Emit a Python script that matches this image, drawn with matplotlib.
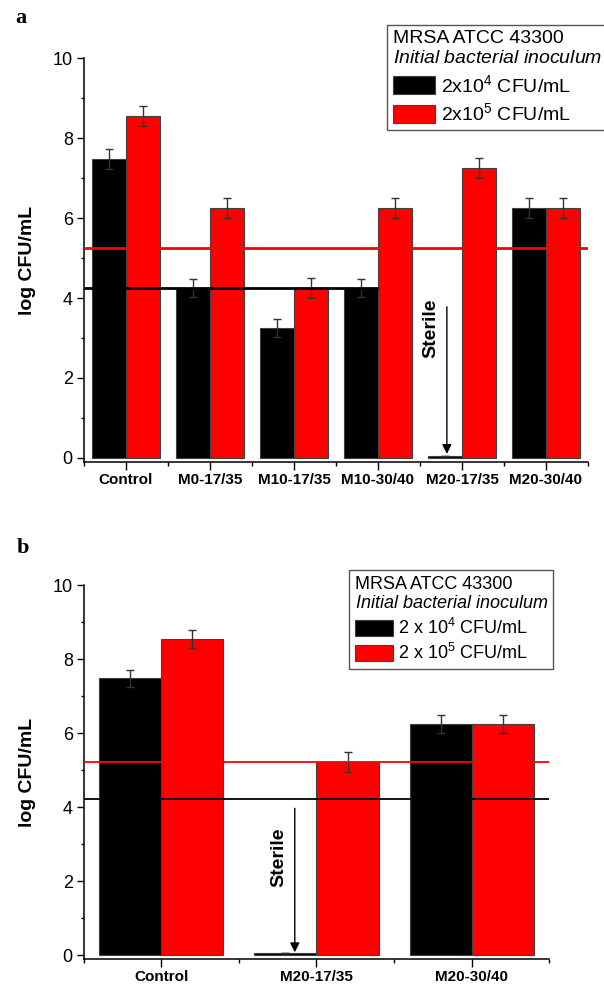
import numpy as np
import matplotlib
matplotlib.use("Agg")
import matplotlib.pyplot as plt
from matplotlib.patches import Patch

plt.rcParams['font.family'] = 'Liberation Sans'
plt.rcParams['mathtext.fontset'] = 'custom'
plt.rcParams['mathtext.rm'] = 'Liberation Sans'
plt.rcParams['mathtext.it'] = 'Liberation Sans:italic'
plt.rcParams['mathtext.bf'] = 'Liberation Sans:bold'

# panel a data (log CFU/mL)
groups_a = ['Control', 'M0-17/35', 'M10-17/35', 'M10-30/40', 'M20-17/35', 'M20-30/40']
low_a = [7.48, 4.25, 3.25, 4.25, 0.05, 6.25]
low_err_a = [0.25, 0.23, 0.23, 0.23, 0.0, 0.25]
high_a = [8.55, 6.25, 4.25, 6.25, 7.25, 6.25]
high_err_a = [0.25, 0.25, 0.25, 0.25, 0.25, 0.25]
labels_a = ['2x$10^4$ CFU/mL', '2x$10^5$ CFU/mL']

# panel b data
groups_b = ['Control', 'M20-17/35', 'M20-30/40']
low_b = [7.48, 0.05, 6.25]
low_err_b = [0.23, 0.0, 0.25]
high_b = [8.55, 5.22, 6.25]
high_err_b = [0.25, 0.27, 0.25]
labels_b = ['2 x $10^4$ CFU/mL', '2 x $10^5$ CFU/mL']

# inoculum reference levels
ref_high_a, ref_low_a = 5.26, 4.25
ref_high_b, ref_low_b = 5.22, 4.22

RED = '#ff0000'
EDGE = '#404040'
TITLE = 'MRSA ATCC 43300\n$\\mathit{Initial\\ bacterial\\ inoculum}$'

fig = plt.figure(figsize=(6.04, 9.85), dpi=100)
ax_a = fig.add_axes([0.139, 0.531, 0.8345, 0.410])
ax_b = fig.add_axes([0.139, 0.0264, 0.770, 0.3796])


def draw_panel(ax, groups, low, low_err, high, high_err):
    x = np.arange(len(groups))
    w = 0.4
    ax.bar(x - w / 2, low, w, color='black', edgecolor=EDGE, linewidth=0.8, zorder=2)
    ax.bar(x + w / 2, high, w, color=RED, edgecolor=EDGE, linewidth=0.8, zorder=2)
    ax.errorbar(x - w / 2, low, yerr=low_err, fmt='none', ecolor='#333333',
                elinewidth=1, capsize=2.8, capthick=1, zorder=3)
    ax.errorbar(x + w / 2, high, yerr=high_err, fmt='none', ecolor='#333333',
                elinewidth=1, capsize=2.8, capthick=1, zorder=3)
    ax.set_xlim(-0.5, len(groups) - 0.5)
    ax.set_ylim(-0.1, 10)
    ax.set_xticks(x)
    ax.set_xticklabels(groups, fontweight='bold', fontsize=11)
    ax.set_xticks(np.arange(len(groups) + 1) - 0.5, minor=True)
    ax.set_yticks([0, 2, 4, 6, 8, 10])
    ax.set_yticks([1, 3, 5, 7, 9], minor=True)
    ax.tick_params(axis='y', which='major', length=5, width=1, labelsize=13, pad=3)
    ax.tick_params(axis='y', which='minor', length=2.5, width=1)
    ax.tick_params(axis='x', which='major', length=5.5, width=1, pad=2.5)
    ax.tick_params(axis='x', which='minor', length=3, width=1)
    for s in ['top', 'right']:
        ax.spines[s].set_visible(False)
    for s in ['left', 'bottom']:
        ax.spines[s].set_linewidth(1.1)
    ax.set_ylabel('log CFU/mL', fontweight='bold', fontsize=14)


def add_legend(ax, labels, anchor, size, hlen, hheight, spacing):
    handles = [Patch(facecolor='black', edgecolor=EDGE, linewidth=0.8),
               Patch(facecolor=RED, edgecolor=EDGE, linewidth=0.8)]
    leg = ax.legend(handles, labels, title=TITLE, alignment='left', loc='upper right',
                    bbox_to_anchor=anchor, bbox_transform=fig.transFigure,
                    fontsize=size, title_fontsize=size, fancybox=False, framealpha=1,
                    edgecolor='#555555', borderaxespad=0, borderpad=0.3,
                    handlelength=hlen, handleheight=hheight, handletextpad=0.3,
                    labelspacing=spacing)
    leg.get_frame().set_linewidth(1)
    leg.set_zorder(5)


# panel a
draw_panel(ax_a, groups_a, low_a, low_err_a, high_a, high_err_a)
ax_a.hlines(ref_high_a, -0.5, 5.5, color=RED, lw=2, zorder=4)
ax_a.hlines(ref_low_a, -0.5, 3.0, color='black', lw=2, zorder=4)
ax_a.text(3.63, 3.25, 'Sterile', rotation=90, ha='center', va='center',
          fontweight='bold', fontsize=14)
ax_a.annotate('', xy=(3.82, 0.1), xytext=(3.82, 3.78),
              arrowprops=dict(arrowstyle='-|>', color='black', lw=1,
                              mutation_scale=14, shrinkA=0, shrinkB=0))
ax_a.yaxis.set_label_coords(-0.095, 0.5)
add_legend(ax_a, labels_a, (1.006, 0.975), 14, 2.2, 1.1, 0.35)

# panel b
draw_panel(ax_b, groups_b, low_b, low_err_b, high_b, high_err_b)
ax_b.hlines(ref_high_b, -0.5, 2.5, color=RED, lw=1.3, zorder=4)
ax_b.hlines(ref_low_b, -0.5, 2.5, color='black', lw=1.3, zorder=4)
ax_b.text(0.755, 2.65, 'Sterile', rotation=90, ha='center', va='center',
          fontweight='bold', fontsize=14)
ax_b.annotate('', xy=(0.86, 0.08), xytext=(0.86, 3.97),
              arrowprops=dict(arrowstyle='-|>', color='black', lw=1,
                              mutation_scale=14, shrinkA=0, shrinkB=0))
ax_b.yaxis.set_label_coords(-0.103, 0.5)
add_legend(ax_b, labels_b, (0.916, 0.421), 13, 2.1, 1.0, 0.3)

fig.text(0.025, 0.9766, 'a', family='Liberation Serif', fontweight='bold', fontsize=16)
fig.text(0.028, 0.4386, 'b', family='Liberation Serif', fontweight='bold', fontsize=16)

fig.savefig('out.png', dpi=100)
